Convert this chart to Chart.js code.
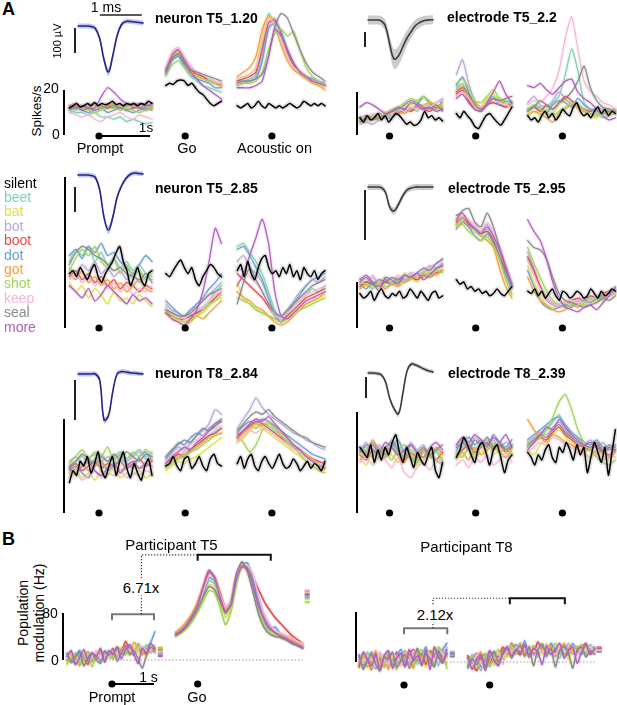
<!DOCTYPE html>
<html><head><meta charset="utf-8">
<script src="https://cdn.jsdelivr.net/npm/chart.js@4.4.1/dist/chart.umd.min.js"></script>
<style>
html,body{margin:0;padding:0;background:#fff;}
body{position:relative;width:617px;height:705px;overflow:hidden;font-family:"Liberation Sans",Arial,Helvetica,sans-serif;color:#000;}
canvas{position:absolute;}
.t{position:absolute;white-space:nowrap;line-height:1;}
</style></head><body>
<script>
// ---------- categories ----------
const WORDS = ['beet','bat','bot','boot','dot','got','shot','keep','seal','more'];
const COLORS = ['#7fd4b0','#e0e04a','#b9a8dc','#ea4a4e','#6b9fd0','#f3a13d','#a3d45a','#f6b6d8','#8a8a8a','#b25fc0'];
const LEGEND_LABELS = ['silent'].concat(WORDS);
const LEGEND_COLORS = ['#000000'].concat(COLORS);

// epoch windows (s, relative to event)
const promptWin=[-0.58,1.04], goWin=[-0.38,0.71], acWin=[-0.68,1.04];
const bPromptWin=[-1.07,1.02], bGoWin=[-0.52,2.5];
const waveWin=[0,1.55]; // ms

// ---------- A: neuron T5_1.20 (Hz) ----------
const n120P=[[11,10,10,9,10,8,8,7,8,6,7,6,5,5.5],[12,13,12,11,12,13,12,12,13,12,13,12,12,13],[13,14,12,13,14,13,12,14,13,14,12,13,14,13],[12,12,13,12,11,12,13,12,12,11,12,12,11,12],[11,12,11,10,11,12,10,11,12,11,10,11,12,11],[13,14,12,14,13,12,13,14,12,13,14,12,13,12],[10,11,12,11,10,11,12,12,11,12,11,10,11,12],[10,9,8,9,7,6,8,9,10,8,7,9,8,7],[13,12,13,12,14,13,12,13,12,13,14,12,13,13],[12,13,11,12,12,17,21,19,16,14,13,14,13,14]];
const n120Ps=[12,13,14,12.5,13,14,13,14.5,13,14,13.5,14,15,13.5,14,13,14,13.5,14,13,14,13.5,15,14];
const n120G=[[27,33,35,30,26,24,22,21,20,19],[29,35,37,32,28,27,25,24,23,22],[30,36,38,34,30,28,26,25,23,22],[28,34,36,33,29,27,26,24,23,22],[27,33,35,31,27,25,24,23,21,21],[29,36,37,33,28,26,25,24,23,22],[26,31,33,30,27,26,25,24,23,23],[30,37,39,35,31,28,27,25,24,23],[28,34,36,32,29,28,27,26,25,24],[29,35,38,33,28,25,22,20,18,16]];
const n120Gs=[22,23,22.5,24,24.5,24,22,23,21,19,18,16,14,13,14,15];
const n120A=[[24,24,25,27,40,54,50,42,35,30,27,25,24,23,22],[25,26,27,30,45,53,50,43,35,30,27,25,23,22,21],[23,24,24,26,35,48,52,46,38,32,28,26,24,23,22],[24,25,26,28,38,50,51,45,37,31,28,26,24,23,22],[22,23,24,25,33,47,50,46,38,32,28,26,25,24,23],[26,28,30,35,47,53,48,40,33,29,27,25,23,22,20],[22,23,23,24,28,38,45,47,44,46,38,30,26,24,22],[25,26,27,30,42,52,49,42,35,30,28,26,24,23,22],[23,24,24,25,27,35,48,54,52,45,38,32,28,26,24],[21,21,21,22,24,35,47,44,38,32,28,26,24,23,22]];
const n120As=[13,12,13,14,12,13,15,13,12,14,13,12,13,12,13,14,13,12,13,15,14,13,14,13,14,13];

// ---------- A: electrode T5_2.2 ----------
const e22P=[[8,7,9,8,10,9,11,12,13,11,14,13,12,14],[7,6,8,7,9,10,12,13,14,15,17,16,13,14],[5,6,5,7,8,9,10,12,11,13,12,14,15,17],[8,9,8,10,9,11,10,12,11,13,12,11,13,12],[7,8,7,9,8,8,10,11,12,14,18,15,12,16],[6,7,8,7,9,10,11,10,12,13,14,15,14,13],[7,8,8,9,10,12,13,15,17,16,18,14,12,15],[9,8,10,9,11,10,12,11,13,12,14,13,15,16],[6,8,7,8,9,11,12,14,16,15,13,12,14,11],[13,15,14,12,10,11,13,12,15,14,12,13,11,12]];
const e22Ps=[8,6,9,7,8,10,7,9,6,8,10,9,7,5,6,4.5,5,7,11,8,9,7,8,6.5];
const e22G=[[22,24,18,14,12,16,18,17,15,14],[20,22,17,13,13,17,19,16,14,16],[28,35,24,16,12,14,17,15,13,14],[19,21,16,12,11,14,15,14,13,15],[23,27,20,14,12,15,17,14,16,15],[21,23,18,15,13,15,17,16,14,13],[24,26,22,16,15,18,21,17,16,14],[18,20,17,14,13,15,16,15,14,13],[20,22,19,14,12,14,17,16,17,18],[17,19,15,12,11,15,20,25,19,15]];
const e22Gs=[10,8,11,9,7,4,3,6,9,10,8,6,4.5,7,10,13];
const e22A=[[12,14,13,11,15,18,28,40,30,15,12,10,8,9,10],[10,11,9,12,10,14,16,15,12,11,9,8,10,9,11],[15,18,14,13,16,20,17,14,13,12,11,13,12,10,11],[12,13,11,14,12,15,18,16,14,12,11,12,10,11,12],[11,13,12,10,14,16,15,13,17,14,12,11,10,12,11],[9,11,10,8,6,10,12,14,13,11,10,9,11,10,12],[12,14,12,10,9,11,13,15,14,12,10,9,11,12,10],[14,16,15,18,22,30,45,55,40,25,20,18,15,14,12],[11,13,16,14,12,15,17,20,25,32,22,16,13,12,11],[23,22,24,21,19,22,25,26,20,17,15,12,9,7,8]];
const e22As=[9,7,8,6,9,11,8,10,7,9,12,10,9,13,15,11,9,10,8,11,13,10,12,9,11,10];

// ---------- A: neuron T5_2.85 ----------
const n285P=[[22,26,24,27,22,25,21,23,20,22,19,21,18,17],[15,12,14,10,13,11,8,12,9,10,8,11,9,7],[20,18,21,19,22,18,20,17,19,16,18,15,17,16],[17,19,16,18,15,17,14,16,13,15,14,12,14,13],[24,26,23,27,25,28,24,25,22,20,18,21,24,22],[18,16,19,15,17,14,16,13,15,12,14,16,13,12],[19,23,26,24,27,22,20,23,18,21,17,19,16,18],[16,18,15,17,14,16,13,15,12,14,11,13,12,14],[21,25,27,26,24,23,21,19,20,18,17,16,18,15],[14,12,10,13,9,11,14,12,10,8,11,9,10,8]];
const n285Ps=[18,19,17,20,18,16,19,21,17,15,18,20,22,25,27,22,19,14,17,20,16,14,18,19];
const n285G=[[7,5,4,3,4,5,7,9,12,14],[6,4,3,2,3,4,5,7,9,10],[8,6,5,4,6,7,9,11,13,15],[5,4,3,3,4,5,6,8,10,12],[9,7,5,4,6,8,10,13,15,18],[5,3,2,1,2,4,3,5,7,9],[6,4,3,2,3,4,6,8,9,11],[7,5,4,3,5,6,7,9,11,12],[6,5,4,4,5,7,9,11,12,13],[5,3,2,1,3,6,12,22,33,28]];
const n285Gs=[18,17,19,21,22.5,20,18,20,16,14,17,19,21,20,18,17];
const n285A=[[27,28,25,22,18,12,6,3,5,7,9,11,13,12,14],[15,10,8,6,5,4,3,2,4,5,7,8,9,10,11],[22,24,20,18,15,10,5,3,6,9,12,14,16,15,17],[18,16,14,12,10,7,4,2,4,6,8,10,11,12,13],[26,27,24,20,16,10,4,2,5,8,11,14,16,17,18],[12,10,9,7,6,4,2,1,2,4,6,8,9,10,12],[10,9,8,6,5,4,3,2,3,5,6,7,8,9,10],[20,19,17,15,12,8,4,3,5,7,9,11,12,13,14],[8,15,20,16,12,8,5,4,6,8,10,12,14,15,16],[14,18,24,30,36,28,12,4,3,5,7,9,10,11,12]];
const n285As=[19,21,17,22,18,16,20,23,24,20,18,19,17,20,18,21,17,19,16,20,18,17,19,16,18,19];

// ---------- A: electrode T5_2.95 ----------
const e295P=[[18,19,17,20,18,19,21,20,22,21,23,24,25,27],[19,18,20,17,19,21,18,24,22,20,23,25,24,26],[21,20,22,19,21,20,22,21,23,22,24,26,28,30],[18,20,19,18,20,19,21,20,22,21,23,22,24,25],[19,17,20,18,21,19,20,22,24,23,25,27,26,28],[17,19,18,20,17,19,18,20,21,23,22,24,23,25],[20,19,18,20,22,19,21,20,22,23,24,22,25,24],[22,21,23,20,22,21,23,22,24,23,25,27,26,29],[20,22,19,21,20,22,21,23,22,24,26,25,28,30],[21,23,20,16,22,21,19,23,22,24,21,23,26,27]];
const e295Ps=[15,13,14,16,12,15,17,14,13,15,14,16,13,14,17,15,13,16,14,12,15,16,13,14];
const e295G=[[45,47,44,42,40,43,38,32,24,18],[44,46,45,42,41,39,36,30,22,14],[47,49,46,44,42,45,40,33,26,20],[46,48,45,43,41,42,38,31,25,19],[43,46,44,40,38,41,37,30,23,17],[45,48,46,43,40,38,35,26,18,13],[44,45,42,40,38,40,36,30,21,15],[48,49,47,45,43,46,42,36,28,20],[47,51,52,46,44,50,44,35,27,19],[49,50,46,43,41,44,40,34,26,18]];
const e295Gs=[21,19,20,17,18,16,17,15,16,14,15,17,15,14,16,18];
const e295A=[[30,24,18,13,11,10,9,10,11,12,13,12,14,15,16],[27,20,14,10,9,10,12,11,13,12,14,13,15,14,16],[33,26,18,12,10,9,10,11,12,13,12,14,13,15,16],[31,25,18,13,11,10,11,12,13,12,14,13,15,16,17],[25,18,12,9,8,9,10,9,11,12,11,13,14,15,16],[22,16,12,10,8,7,8,10,9,11,12,11,13,14,15],[35,28,22,16,12,10,9,10,11,10,12,13,12,14,15],[29,23,17,13,11,10,11,12,11,13,12,14,15,14,16],[38,35,34,30,22,15,12,11,10,9,10,11,13,12,14],[47,42,38,30,20,13,9,8,7,9,10,8,11,14,18]];
const e295As=[16,15,17,14,16,13,15,17,14,12,16,15,13,14,16,15,13,14,17,15,13,16,14,15,17,16];

// ---------- A: neuron T8_2.84 ----------
const n284P=[[20,22,24,21,23,25,22,24,26,23,25,27,24,26],[16,18,15,17,14,18,16,19,15,17,16,18,15,17],[22,24,21,23,25,22,24,23,25,22,24,26,23,24],[19,21,18,20,22,19,21,20,22,19,21,23,20,22],[18,20,17,15,20,22,18,20,23,21,19,24,26,22],[17,19,21,18,20,22,19,21,18,20,22,19,21,23],[21,24,27,23,26,24,28,22,25,23,26,24,27,25],[15,17,14,16,18,15,17,16,18,15,17,16,18,17],[20,22,25,23,21,24,22,25,23,26,24,22,25,24],[19,17,20,22,18,16,19,21,17,20,22,19,21,20]];
const n284Ps=[13,18,16,22,20,24,17,21,26,18,15,20,24,16,22,26,19,15,21,17,14,20,23,16];
const n284G=[[22,24,23,26,27,29,31,33,35,36],[18,20,22,21,23,24,26,28,30,32],[24,26,28,27,30,33,35,38,44,42],[21,23,25,24,27,29,31,33,34,36],[23,26,30,29,32,34,33,36,38,39],[20,22,24,25,26,28,30,32,33,34],[19,21,23,24,26,27,29,31,33,34],[22,25,27,26,29,31,33,35,36,37],[24,27,29,31,30,33,36,35,38,40],[21,24,26,28,27,30,32,35,37,39]];
const n284Gs=[20,21,24,20,18,23,24,19,21,24,20,18,23,25,21,20];
const n284A=[[32,35,37,36,38,37,35,33,31,29,27,25,23,21,20],[30,32,35,37,36,34,32,30,28,26,24,22,20,19,18],[36,40,44,49,45,42,40,38,36,34,33,31,30,28,27],[33,35,37,39,38,36,34,32,30,28,26,24,23,22,21],[34,37,39,38,40,39,37,35,33,31,29,27,25,24,23],[31,34,36,38,37,39,36,34,32,29,27,25,23,21,19],[33,30,26,29,35,38,36,33,30,28,25,22,20,18,17],[30,33,35,34,36,35,33,31,29,27,26,24,22,21,20],[35,38,41,43,42,44,41,39,37,35,33,32,30,29,28],[32,35,38,40,39,41,38,35,32,29,27,24,22,20,19]];
const n284As=[21,24,19,23,25,20,18,22,24,21,19,22,25,21,19,20,23,21,18,20,22,19,21,20,18,22];

// ---------- A: electrode T8_2.39 ----------
const e239P=[[24,26,23,25,22,27,24,21,25,23,26,22,24,20],[22,19,24,21,26,23,20,24,22,19,21,24,20,22],[25,28,24,27,25,29,26,24,28,25,27,23,26,24],[23,21,25,22,24,26,23,21,24,22,25,23,21,24],[26,24,28,25,23,26,29,24,22,20,25,23,21,19],[21,24,29,25,22,26,23,20,24,21,25,22,26,23],[23,25,22,26,24,21,25,27,23,20,24,22,25,21],[20,22,19,23,21,18,22,16,14,18,20,17,21,19],[24,27,25,23,26,28,25,22,27,24,26,23,25,27],[25,23,27,24,28,26,23,25,27,24,22,26,28,25]];
const e239Ps=[26,24,22,27,20,25,21,26,23,28,31,24,20,26,22,18,24,21,19,23,26,17,14,20];
const e239G=[[24,26,28,25,27,29,26,28,25,27],[21,23,25,22,24,27,23,25,22,24],[27,29,26,30,28,27,29,26,28,27],[23,25,27,24,26,28,25,27,24,26],[25,28,30,27,29,26,31,28,26,29],[22,24,21,26,23,25,27,24,22,25],[24,22,26,23,27,25,28,24,26,23],[19,21,18,22,20,23,19,21,24,20],[26,28,25,29,27,30,26,28,25,27],[27,30,28,31,29,27,30,28,31,26]];
const e239Gs=[22,25,30,27,23,20,26,28,24,19,25,27,22,16,21,23];
const e239A=[[27,29,31,33,36,39,34,30,28,26,25,27,24,26,25],[25,23,27,29,31,33,30,28,26,24,22,25,23,21,24],[28,30,32,31,34,36,33,30,28,27,29,26,28,25,27],[26,28,30,29,32,34,31,29,27,26,25,27,24,26,25],[29,31,33,35,37,38,35,32,30,28,27,29,26,25,27],[37,33,30,28,31,30,28,27,25,24,26,23,25,22,24],[26,28,30,33,38,44,47,41,33,28,25,22,20,19,21],[24,26,28,27,30,29,27,26,24,23,22,24,21,23,22],[27,29,31,30,33,35,32,30,28,27,26,28,25,27,26],[25,28,31,34,33,37,34,31,29,27,28,26,24,23,25]];
const e239As=[24,22,19,23,21,25,27,22,20,26,24,28,25,21,27,23,26,16,22,28,24,20,26,15,24,33];

// ---------- spike waveforms (µV) ----------
const wN120=[0,0,0,-2,-10,-50,-135,-184,-120,-40,5,18,18,16,14,12];
const sdN120=[10,10,10,10,11,13,15,16,15,13,11,10,10,10,10,10];
const wE22=[0,0,0,-5,-40,-160,-260,-240,-180,-120,-75,-35,-15,-3,0,2];
const sdE22=[30,30,30,32,40,55,65,65,60,52,45,38,33,30,30,30];
const wN285=[0,0,0,-2,-10,-60,-170,-220,-170,-90,-45,-15,2,8,6,4];
const sdN285=[10,10,10,10,11,13,15,16,15,13,11,10,10,10,10,10];
const wE295=[0,0,0,-1,-10,-40,-48,-35,-18,-6,-2,0,0,0,0,0];
const sdE295=[6,6,6,6,6,7,7,7,7,6,6,6,6,6,6,6];
const wN284=[0,0,0,0,0,-15,-115,-105,-45,0,6,5,3,2,1,0];
const sdN284=[6,6,6,6,6,7,8,8,7,6,6,6,6,6,6,6];
const wE239=[0,0,-2,-8,-40,-120,-170,-195,-100,10,43,38,28,18,10,5];
const sdE239=[10,10,10,10,11,12,13,13,12,11,10,10,10,10,10,10];

// ---------- B: population modulation (Hz) ----------
const t5P=[[5,-5,10,0,12,-3,8,2,14,4,10,18,6,20,12,24,10,22,14,26,18,20],[-8,6,-4,10,-6,8,0,12,-2,14,4,8,16,10,22,8,20,12,18,6,24,16],[8,-2,12,-6,6,14,0,10,-4,12,6,16,4,18,10,26,14,20,8,22,12,18],[0,12,-4,8,4,-8,10,2,16,-2,12,8,22,14,32,18,12,24,16,10,20,14],[10,0,-6,14,4,-2,12,6,0,16,8,2,18,10,24,16,8,28,12,20,30,48],[-2,10,4,-10,8,14,-4,6,12,-2,14,6,20,12,26,8,30,18,10,24,16,22],[-6,4,12,-8,0,10,-12,6,14,0,10,2,16,20,8,18,12,26,14,22,18,12],[4,12,-4,6,14,-2,8,16,2,12,6,18,10,14,22,16,12,20,24,14,18,26],[12,-4,6,16,-10,4,12,0,-6,14,8,20,-2,12,24,10,16,2,-14,8,22,18],[6,16,-8,4,18,-2,12,6,20,-4,16,10,22,2,18,26,10,-6,20,12,28,20]];
const t5G=[[42,48,58,70,88,110,135,130,100,78,92,135,160,155,125,90,68,52,44,40,36,30,27,22],[40,47,56,68,85,105,128,125,98,72,88,132,162,158,128,88,62,50,42,38,34,30,26,20],[44,50,60,73,92,118,148,140,112,88,98,140,162,160,135,100,75,58,48,44,40,34,30,26],[46,52,64,78,98,125,150,142,115,90,100,142,158,155,140,120,100,85,72,62,52,42,35,28],[43,48,57,70,88,112,140,135,108,84,94,138,163,165,138,100,66,52,56,44,38,32,26,20],[48,55,66,80,100,128,152,140,110,86,96,140,160,150,120,90,68,54,46,42,38,34,30,26],[40,46,54,66,82,100,118,115,90,60,82,130,162,160,125,85,60,48,40,38,34,30,26,22],[45,51,61,74,93,118,142,138,112,90,100,142,160,162,145,110,80,62,50,46,42,38,32,28],[42,48,58,72,88,108,125,120,100,80,96,148,167,150,115,78,55,44,40,38,34,28,24,20],[44,50,60,75,95,125,153,140,108,82,94,138,160,156,128,92,70,54,46,40,36,30,26,22]];
const t5PMean=[20,22,10,17,12,15,21,14,8,6];
const t5GMean=[104,100,110,118,113,116,98,119,107,111];
const t8P=[[5,-8,12,-4,10,-10,6,14,-6,8,-2,12,4,16,-4,10,18,2,14,-6,20,8],[-10,6,-4,14,-8,4,12,-12,8,2,-6,10,16,-2,12,6,-8,14,20,4,10,-4],[8,-4,16,0,-10,12,4,-6,14,-2,10,18,-4,8,14,0,20,6,-2,16,10,24],[-4,10,2,-12,14,6,-8,10,-2,16,4,-6,12,20,2,14,-4,18,8,22,4,12],[12,-6,4,16,-10,8,0,14,-4,10,20,0,6,-8,16,10,24,-2,14,6,20,30],[0,14,-8,6,18,-6,10,-12,12,4,-4,16,8,-10,18,6,12,-2,22,10,4,16],[-6,8,14,-10,4,10,-8,16,2,-12,10,6,18,-4,12,20,2,16,-6,24,14,-10],[6,-2,10,4,-8,16,2,-4,12,8,-6,14,0,18,6,-2,16,10,4,20,12,6],[10,-12,2,12,-4,-14,8,4,16,-8,2,12,-10,6,22,-6,14,4,-8,18,0,14],[-8,16,4,-6,12,-14,10,18,-10,6,14,-8,20,2,10,-4,18,-12,24,8,-2,20]];
const t8G=[[-6,8,-12,4,14,-8,10,2,20,12,26,18,10,28,16,22,8,30,14,24,18,6,26,12,30,16,22,10,28,20],[4,-10,10,-4,6,16,-6,14,22,8,18,28,14,20,6,26,18,12,30,10,22,16,28,4,20,26,14,24,18,22],[-4,12,2,-14,8,4,18,-2,16,26,12,20,30,16,24,10,28,20,14,26,8,24,18,30,12,20,26,16,22,24],[10,-2,-14,6,12,-6,16,8,24,14,30,18,12,26,20,14,32,22,10,28,16,24,12,20,28,16,24,30,14,22],[-10,4,14,-8,2,18,6,-4,14,20,10,28,16,34,12,22,18,26,8,30,20,14,24,10,28,18,12,26,20,16],[6,-8,8,16,-10,4,12,-2,18,10,22,16,30,14,24,20,12,28,18,26,10,22,30,14,20,24,16,28,12,20],[-2,10,-10,2,12,-6,8,20,4,16,28,12,22,8,18,26,14,20,24,12,30,18,10,24,16,22,28,14,20,18],[2,-6,12,-2,-12,10,4,14,-4,18,12,24,20,10,26,16,22,14,28,18,12,24,20,16,26,10,22,18,24,14],[-8,6,-4,10,-14,8,16,0,12,22,6,18,26,10,24,-6,20,28,12,22,-8,18,26,14,-10,20,24,8,18,12],[8,-12,4,12,-8,18,2,-6,16,24,10,20,14,28,8,22,16,-4,26,12,20,30,6,18,24,-2,16,28,12,22]];
const t8PMean=[14,16,12,10,15,8,17,11,9,13];
const t8GMean=[20,22,18,24,21,17,23,19,16,22];

// ---------- helpers ----------
function rgba(hex,a){const n=parseInt(hex.slice(1),16);return `rgba(${n>>16&255},${n>>8&255},${n&255},${a})`;}
function mkCanvas(l,t,w,h){const c=document.createElement('canvas');c.width=w;c.height=h;c.style.left=l+'px';c.style.top=t+'px';c.style.width=w+'px';c.style.height=h+'px';document.body.appendChild(c);return c;}
function series(vals,off,win){const n=vals.length;return vals.map((v,k)=>({x:off+win[0]+k*(win[1]-win[0])/(n-1),y:v}));}
function joinEpochs(parts){const out=[];parts.forEach((p,i)=>{if(i)out.push({x:p.off+p.win[0]-0.005,y:null});out.push(...series(p.vals,p.off,p.win));});return out;}
function baseOpts(xmin,xmax,ymin,ymax,tension){return {responsive:false,maintainAspectRatio:false,animation:false,devicePixelRatio:1,events:[],layout:{padding:0},
 plugins:{legend:{display:false},tooltip:{enabled:false},title:{display:false}},
 elements:{point:{radius:0},line:{tension:tension,borderCapStyle:'round',borderJoinStyle:'round'}},
 scales:{x:{type:'linear',display:false,min:xmin,max:xmax},y:{type:'linear',display:false,min:ymin,max:ymax}}};}
function line(c,x1,y1,x2,y2){c.beginPath();c.moveTo(x1,y1);c.lineTo(x2,y2);c.stroke();}

function rateChart(o){
  const cv=mkCanvas(o.left,o.top,o.w,o.h);
  const xmin=(o.left-o.dotPx)/o.pps, xmax=xmin+o.w/o.pps;
  const ymax=(o.zeroY-o.top)/o.ppu, ymin=ymax-o.h/o.ppu;
  const layers=[];
  const nW=o.epochs[0].words.length;
  const wd=[];
  for(let i=0;i<nW;i++) wd.push(joinEpochs(o.epochs.map(e=>({vals:e.words[i],off:e.off,win:e.win}))));
  wd.forEach((d,i)=>layers.push({data:d,borderColor:rgba(COLORS[i],0.13),borderWidth:4}));
  wd.forEach((d,i)=>layers.push({data:d,borderColor:COLORS[i],borderWidth:o.lw||1.3}));
  if(o.epochs[0].silent){const d=joinEpochs(o.epochs.map(e=>({vals:e.silent,off:e.off,win:e.win})));
    layers.push({data:d,borderColor:'rgba(160,160,160,0.3)',borderWidth:5});
    layers.push({data:d,borderColor:'#000',borderWidth:1.5});}
  layers.reverse();
  new Chart(cv,{type:'line',data:{datasets:layers},options:baseOpts(xmin,xmax,ymin,ymax,0.2),
    plugins:[{id:'deco',afterDatasetsDraw(ch){const c=ch.ctx,xs=ch.scales.x,ys=ch.scales.y;c.save();
      o.deco(c,v=>xs.getPixelForValue(v),v=>ys.getPixelForValue(v),o);c.restore();}}]});
}
function decoA(c,X,Y,o){
  c.strokeStyle='#000';c.fillStyle='#000';c.lineWidth=2;c.lineCap='butt';
  const bx=X((o.barPx-o.dotPx)/o.pps);
  line(c,bx,Y(0),bx,Y(o.barVal));
  const dy=o.dotY-o.top;
  o.epochs.forEach(e=>{c.beginPath();c.arc(X(e.off),dy,3.6,0,Math.PI*2);c.fill();});
  if(o.timeBar){c.lineWidth=1.8;line(c,X(0),dy,X(1),dy);}
}
function decoB(c,X,Y,o){
  decoA(c,X,Y,o);
  const pe=o.epochs[0], ge=o.epochs[1];
  c.save();c.setLineDash([1.5,2]);c.strokeStyle='#9a9a9a';c.lineWidth=1;
  line(c,X(pe.off+pe.win[0]),Y(0),X(ge.off+ge.win[1]),Y(0));c.restore();
  const b=o.br;
  c.strokeStyle='#777';c.lineWidth=2;
  c.beginPath();c.moveTo(X(b.p0),Y(b.pv)+6);c.lineTo(X(b.p0),Y(b.pv));c.lineTo(X(b.p1),Y(b.pv));c.lineTo(X(b.p1),Y(b.pv)+6);c.stroke();
  c.strokeStyle='#111';
  c.beginPath();c.moveTo(X(ge.off+b.g0),Y(b.gv)+6);c.lineTo(X(ge.off+b.g0),Y(b.gv));c.lineTo(X(ge.off+b.g1),Y(b.gv));c.lineTo(X(ge.off+b.g1),Y(b.gv)+6);c.stroke();
  c.save();c.setLineDash([1.2,1.8]);c.strokeStyle='#333';c.lineWidth=1.2;
  c.beginPath();c.moveTo(X(b.ct),Y(b.pv));c.lineTo(X(b.ct),Y(b.gv));c.lineTo(X(ge.off+b.g0),Y(b.gv));c.stroke();c.restore();
  c.lineWidth=1.5;
  o.pMean.forEach((v,i)=>{c.strokeStyle=COLORS[i];const x=X(pe.off+pe.win[1])+3;line(c,x,Y(v),x+5,Y(v));});
  o.gMean.forEach((v,i)=>{c.strokeStyle=COLORS[i];const x=X(ge.off+ge.win[1])+2;line(c,x,Y(v),x+5,Y(v));});
}

function waveChart(o){
  const cv=mkCanvas(o.left,o.top,o.w,o.h);
  const xmin=(o.left-o.x0)/o.ppms, xmax=xmin+o.w/o.ppms;
  const ymax=(o.baseY-o.top)/o.ppu, ymin=ymax-o.h/o.ppu;
  const n=o.mean.length, tt=k=>waveWin[0]+k*(waveWin[1]-waveWin[0])/(n-1);
  const ds=[
    {data:o.mean.map((v,k)=>({x:tt(k),y:v})),borderColor:o.color,borderWidth:1.6,fill:false},
    {data:o.mean.map((v,k)=>({x:tt(k),y:v+o.sd[k]})),borderWidth:0,borderColor:'rgba(0,0,0,0)',backgroundColor:o.band,fill:'+1'},
    {data:o.mean.map((v,k)=>({x:tt(k),y:v-o.sd[k]})),borderWidth:0,borderColor:'rgba(0,0,0,0)',fill:false}];
  new Chart(cv,{type:'line',data:{datasets:ds},options:baseOpts(xmin,xmax,ymin,ymax,0.4),
    plugins:[{id:'wdeco',afterDatasetsDraw(ch){const c=ch.ctx,X=v=>ch.scales.x.getPixelForValue(v),Y=v=>ch.scales.y.getPixelForValue(v);
      c.save();c.strokeStyle='#222';c.lineWidth=2;const bx=X((o.barPx-o.x0)/o.ppms);
      line(c,bx,Y(o.barFrom),bx,Y(o.barFrom-100));
      if(o.msBar){c.lineWidth=1.6;line(c,X(o.msBar[0]),Y(o.msBar[2]),X(o.msBar[1]),Y(o.msBar[2]));}
      c.restore();}}]});
}

// ---------- build panel A ----------
const PPS=51, GO_OFF=1.69, AC_OFF=3.39;
function panelA(left,w,dotPx,top,h,zeroY,ppu,barPx,barVal,dotY,P,Ps,G,Gs,A,As,timeBar){
  rateChart({left,top,w,h,dotPx,pps:PPS,zeroY,ppu,barPx,barVal,dotY,timeBar,deco:decoA,
    epochs:[{off:0,win:promptWin,words:P,silent:Ps},{off:GO_OFF,win:goWin,words:G,silent:Gs},{off:AC_OFF,win:acWin,words:A,silent:As}]});
}
panelA(55,272,99,0,145,135,2.25,64,20,136,n120P,n120Ps,n120G,n120Gs,n120A,n120As,true);
panelA(347,270,389.5,0,145,135,2.15,357,20,136,e22P,e22Ps,e22G,e22Gs,e22A,e22As,false);
panelA(55,272,99,160,175,328,3.02,65,50,328,n285P,n285Ps,n285G,n285Gs,n285A,n285As,false);
panelA(347,270,389.5,160,175,328,2.3,357,20,328,e295P,e295Ps,e295G,e295Gs,e295A,e295As,false);
panelA(55,272,99,345,175,513,2.35,64,40,513,n284P,n284Ps,n284G,n284Gs,n284A,n284As,false);
panelA(347,270,389.5,345,175,513,2.525,357,40,513,e239P,e239Ps,e239G,e239Gs,e239A,e239As,false);

const NAVY='#23238a', NAVYBAND='rgba(120,130,220,0.45)', GREY='#3a3a3a', GREYBAND='rgba(170,170,170,0.6)';
waveChart({left:68,top:8,w:82,h:72,x0:78,ppms:42,baseY:26,ppu:0.25,mean:wN120,sd:sdN120,color:NAVY,band:NAVYBAND,barPx:75,barFrom:-8,msBar:[0.52,1.52,44]});
waveChart({left:358,top:5,w:82,h:68,x0:368,ppms:42,baseY:20,ppu:0.15,mean:wE22,sd:sdE22,color:GREY,band:GREYBAND,barPx:365,barFrom:-80});
waveChart({left:68,top:165,w:82,h:75,x0:78,ppms:42,baseY:175,ppu:0.25,mean:wN285,sd:sdN285,color:NAVY,band:NAVYBAND,barPx:75,barFrom:-48});
waveChart({left:358,top:178,w:82,h:68,x0:368,ppms:42,baseY:187,ppu:0.5,mean:wE295,sd:sdE295,color:GREY,band:GREYBAND,barPx:365,barFrom:-6});
waveChart({left:68,top:360,w:82,h:70,x0:78,ppms:42,baseY:374,ppu:0.4,mean:wN284,sd:sdN284,color:NAVY,band:NAVYBAND,barPx:75,barFrom:-15});
waveChart({left:358,top:355,w:82,h:70,x0:368,ppms:42,baseY:373,ppu:0.21,mean:wE239,sd:sdE239,color:GREY,band:GREYBAND,barPx:366,barFrom:-19});

// ---------- build panel B ----------
const B_PPS=42, B_GO=2.04;
rateChart({left:55,top:540,w:262,h:155,dotPx:112,pps:B_PPS,zeroY:660,ppu:0.5875,barPx:63,barVal:80,dotY:684,timeBar:true,lw:1.6,
  deco:decoB,pMean:t5PMean,gMean:t5GMean,br:{p0:0,p1:1.0,pv:78,ct:0.7,g0:0,g1:1.74,gv:179},
  epochs:[{off:0,win:bPromptWin,words:t5P},{off:B_GO,win:bGoWin,words:t5G}]});
rateChart({left:347,top:540,w:270,h:155,dotPx:404,pps:B_PPS,zeroY:662,ppu:0.625,barPx:356,barVal:80,dotY:685,timeBar:false,lw:1.6,
  deco:decoB,pMean:t8PMean,gMean:t8GMean,br:{p0:0,p1:1.03,pv:54,ct:0.69,g0:0.48,g1:1.79,gv:102},
  epochs:[{off:0,win:bPromptWin,words:t8P},{off:B_GO,win:bGoWin,words:t8G}]});

// ---------- text ----------
function txt(s,x,y,size,opt){opt=opt||{};const d=document.createElement('div');d.className='t';d.textContent=s;
  d.style.fontSize=size+'px';if(opt.bold)d.style.fontWeight='bold';if(opt.color)d.style.color=opt.color;
  if(opt.bg){d.style.background='#fff';d.style.padding='1px 2px';}
  d.style.left=x+'px';d.style.top=y+'px';
  let tr=opt.left?'translate(0,-50%)':'translate(-50%,-50%)';if(opt.rot)tr+=' rotate(-90deg)';
  d.style.transform=tr;document.body.appendChild(d);return d;}
txt('A',2,9,18,{bold:true,left:true});
txt('B',2,539,18,{bold:true,left:true});
txt('1 ms',106,6.5,14);
txt('100 µV',57,41,11,{rot:true});
txt('neuron T5_1.20',155,18,14,{bold:true,left:true});
txt('electrode T5_2.2',447,17,14,{bold:true,left:true});
txt('neuron T5_2.85',155,188,14,{bold:true,left:true});
txt('electrode T5_2.95',448,188,14,{bold:true,left:true});
txt('neuron T8_2.84',155,373,14,{bold:true,left:true});
txt('electrode T8_2.39',448,373,14,{bold:true,left:true});
txt('Spikes/s',37,111,13.5,{rot:true});
txt('20',51,88,14);
txt('0',56,133.5,14);
txt('1s',146,128,13.5);
txt('Prompt',100,148,14.5);
txt('Go',187,148,14.5);
txt('Acoustic on',274.5,148,14.5);
LEGEND_LABELS.forEach((s,i)=>txt(s,4,182.5+i*14.4,14,{left:true,color:LEGEND_COLORS[i]}));
txt('Participant T5',171.5,544,15);
txt('Participant T8',466.5,546,15);
txt('Population',22.5,613,14,{rot:true});
txt('modulation (Hz)',38.5,613,14,{rot:true});
txt('80',50,613,14);
txt('0',55,660,14);
txt('6.71x',141,587,15,{bg:true});
txt('1 s',148.5,677,14);
txt('Prompt',112,697,14.5);
txt('Go',197,697,14.5);
txt('2.12x',435,614,15,{bg:true});
</script>
</body></html>
